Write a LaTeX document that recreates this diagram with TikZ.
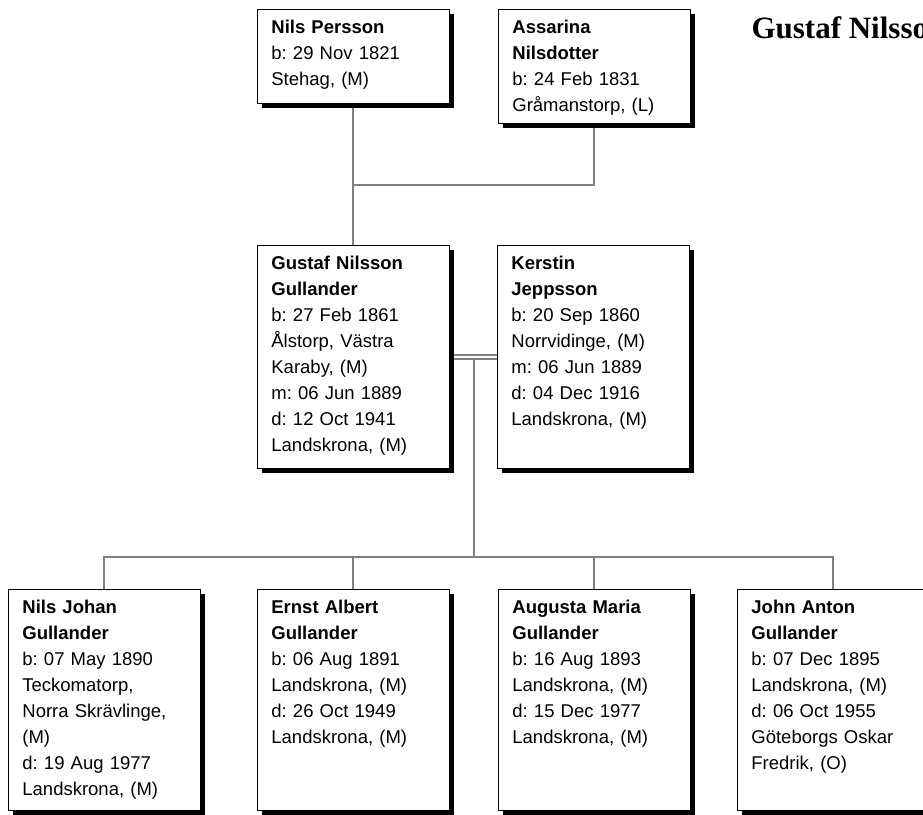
\documentclass[tikz,border=0pt]{standalone}
\usepackage{fontspec}
\setmainfont{Liberation Serif}
\newfontfamily\boxfont{Liberation Sans}
\usepackage{tikz}
\usetikzlibrary{shadows,backgrounds}
\definecolor{linkgray}{RGB}{128,128,128}
\frenchspacing

\begin{document}
\begin{tikzpicture}[
  x=1pt, y=-1pt,
  person/.style={rectangle, draw=black, line width=0.8pt, fill=white, anchor=north west, align=left, text width=164pt, inner xsep=14pt, inner ysep=0pt, text height=24pt, font=\boxfont\fontsize{18.5}{26}\selectfont, drop shadow={shadow xshift=5pt, shadow yshift=-5pt, fill=black, opacity=1}},
  link/.style={draw=linkgray, line width=2pt}
]
  \useasboundingbox (0,0) rectangle (923,814);
  \clip (0,0) rectangle (923,814);

  % parents
  \node[person, text depth=70pt] (nils) at (257,9) {\textbf{Nils Persson}\\b: 29 Nov 1821\\Stehag, (M)};
  \node[person, text depth=90pt] (assarina) at (498,9) {\textbf{Assarina}\\\textbf{Nilsdotter}\\b: 24 Feb 1831\\Gråmanstorp, (L)};
  \node[anchor=base west, font=\bfseries\fontsize{31}{36}\selectfont] (title) at (748,38) {Gustaf Nilsson};

  % couple
  \node[person, text depth=199pt] (gustaf) at (257,245) {\textbf{Gustaf Nilsson}\\\textbf{Gullander}\\b: 27 Feb 1861\\Ålstorp, Västra\\Karaby, (M)\\m: 06 Jun 1889\\d: 12 Oct 1941\\Landskrona, (M)};
  \node[person, text depth=199pt] (kerstin) at (497,245) {\textbf{Kerstin}\\\textbf{Jeppsson}\\b: 20 Sep 1860\\Norrvidinge, (M)\\m: 06 Jun 1889\\d: 04 Dec 1916\\Landskrona, (M)};

  % children
  \node[person, text depth=197pt] (nilsjohan) at (8,589) {\textbf{Nils Johan}\\\textbf{Gullander}\\b: 07 May 1890\\Teckomatorp,\\Norra Skrävlinge,\\(M)\\d: 19 Aug 1977\\Landskrona, (M)};
  \node[person, text depth=197pt] (ernst) at (257,589) {\textbf{Ernst Albert}\\\textbf{Gullander}\\b: 06 Aug 1891\\Landskrona, (M)\\d: 26 Oct 1949\\Landskrona, (M)};
  \node[person, text depth=197pt] (augusta) at (498,589) {\textbf{Augusta Maria}\\\textbf{Gullander}\\b: 16 Aug 1893\\Landskrona, (M)\\d: 15 Dec 1977\\Landskrona, (M)};
  \node[person, text depth=197pt] (john) at (737,589) {\textbf{John Anton}\\\textbf{Gullander}\\b: 07 Dec 1895\\Landskrona, (M)\\d: 06 Oct 1955\\Göteborgs Oskar\\Fredrik, (O)};

  \coordinate (pj) at (474,185);
  \coordinate (mj) at (474,359);
  \coordinate (sib) at (474,557);

  \begin{pgfonlayer}{background}
    \draw[link] (nils.south) |- (pj) -| (assarina.south);
    \draw[link] (nils.south |- pj) -- (gustaf.north);
    \draw[link] ([yshift=2pt]gustaf.east) -- ([yshift=2pt]kerstin.west);
    \draw[link] ([yshift=-2.5pt]gustaf.east) -- ([yshift=-2.5pt]kerstin.west);
    \draw[link] (mj) -- (sib);
    \foreach \kid in {nilsjohan,ernst,augusta,john}
      \draw[link] (sib) -| (\kid.north);
  \end{pgfonlayer}
\end{tikzpicture}
\end{document}
